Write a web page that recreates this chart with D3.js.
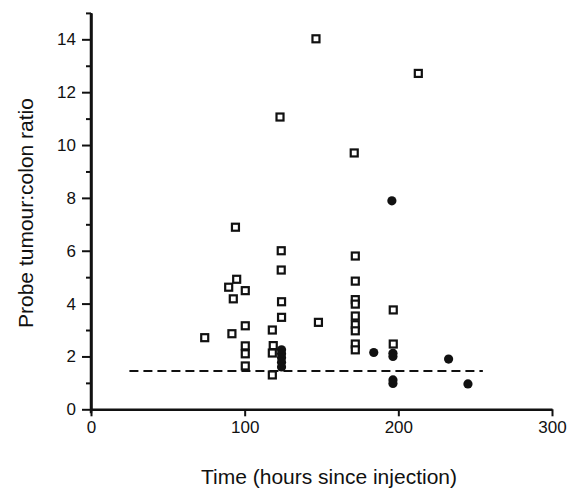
<!DOCTYPE html>
<html>
<head>
<meta charset="utf-8">
<title>Probe tumour:colon ratio</title>
<script src="https://d3js.org/d3.v7.min.js"></script>
<style>
  body { margin: 0; background: #fff; }
  text { font-family: "Liberation Sans", Arial, sans-serif; fill: #111; }
</style>
</head>
<body>
<div id="chart"></div>
<script>
// open squares
var openTimes  = [74, 94, 89.6, 94.8, 92.6, 100.4, 91.7, 100.4, 100.4, 100.4, 100.4,
                  118, 118.6, 118, 118, 123.8, 123.8, 124, 124, 123,
                  146.4, 148,
                  171.3, 172, 172, 172, 172, 172, 172, 172, 172, 172,
                  196.7, 196.7, 213];
var openRatios = [2.71, 6.89, 4.62, 4.92, 4.18, 4.49, 2.86, 3.16, 2.40, 2.10, 1.64,
                  3.0, 2.41, 2.13, 1.3, 6.0, 5.27, 4.07, 3.48, 11.06,
                  14.02, 3.29,
                  9.7, 5.8, 4.85, 4.15, 3.98, 3.53, 3.2, 2.97, 2.47, 2.25,
                  3.76, 2.47, 12.71];
// filled circles
var filledTimes  = [124, 124, 124, 124, 124, 184, 195.8, 196.5, 196.5, 196.5, 196.5, 232.7, 245.3];
var filledRatios = [2.25, 2.1, 1.95, 1.78, 1.6, 2.15, 7.89, 2.12, 2.0, 1.11, 0.98, 1.9, 0.96];
// dashed reference line
var lineTimes = [25, 255];
var lineRatio = 1.45;

var majorY = [0, 2, 4, 6, 8, 10, 12, 14];
var minorY = [1, 3, 5, 7, 9, 11, 13, 15];
var xTicks = [0, 100, 200, 300];

var width = 576, height = 490;
var svg = d3.select("#chart").append("svg")
    .attr("width", width)
    .attr("height", height);

var x = d3.scaleLinear().domain([0, 300]).range([91, 552]);
var y = d3.scaleLinear().domain([0, 15]).range([409.3, 12.9]);

// y axis: minor ticks then major ticks with labels
svg.append("g")
    .attr("transform", "translate(" + x(0) + ",0)")
    .call(d3.axisLeft(y).tickValues(minorY).tickSize(5).tickSizeOuter(0).tickFormat(""))
    .call(function(g) { g.select(".domain").remove(); });

var yAxis = svg.append("g")
    .attr("transform", "translate(" + x(0) + ",0)")
    .call(d3.axisLeft(y).tickValues(majorY).tickSize(9).tickSizeOuter(0).tickPadding(6));
yAxis.selectAll("text").style("font-size", "17px");

var xAxis = svg.append("g")
    .attr("transform", "translate(0," + y(0) + ")")
    .call(d3.axisBottom(x).tickValues(xTicks).tickSize(7).tickSizeOuter(0).tickPadding(5));
xAxis.selectAll("text").style("font-size", "17px");

svg.selectAll(".domain").attr("stroke", "#111").attr("stroke-width", 2.5);
svg.selectAll(".tick line").attr("stroke", "#111").attr("stroke-width", 2);

// y axis line extended to top value and slightly past the origin
svg.append("line")
    .attr("x1", x(0)).attr("x2", x(0))
    .attr("y1", y(15)).attr("y2", y(0) + 4)
    .attr("stroke", "#111").attr("stroke-width", 2.5);

// dashed line
svg.append("line")
    .attr("x1", x(lineTimes[0])).attr("x2", x(lineTimes[1]))
    .attr("y1", y(lineRatio)).attr("y2", y(lineRatio))
    .attr("stroke", "#111").attr("stroke-width", 2.2)
    .attr("stroke-dasharray", "9,5");

// open squares
var sq = 7;
svg.selectAll("rect.open")
    .data(openTimes)
    .enter().append("rect")
    .attr("class", "open")
    .attr("x", function(d) { return x(d) - sq / 2; })
    .attr("y", function(d, i) { return y(openRatios[i]) - sq / 2; })
    .attr("width", sq).attr("height", sq)
    .attr("fill", "#fff")
    .attr("stroke", "#111")
    .attr("stroke-width", 2.2);

// filled circles
svg.selectAll("circle.filled")
    .data(filledTimes)
    .enter().append("circle")
    .attr("class", "filled")
    .attr("cx", function(d) { return x(d); })
    .attr("cy", function(d, i) { return y(filledRatios[i]); })
    .attr("r", 4.6)
    .attr("fill", "#111");

// axis labels
svg.append("text")
    .attr("x", 329).attr("y", 484)
    .attr("text-anchor", "middle")
    .style("font-size", "21px")
    .text("Time (hours since injection)");

svg.append("text")
    .attr("transform", "translate(33,213) rotate(-90)")
    .attr("text-anchor", "middle")
    .style("font-size", "21px")
    .text("Probe tumour:colon ratio");
</script>
</body>
</html>
